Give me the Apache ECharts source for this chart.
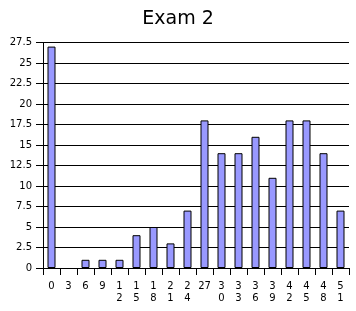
<!DOCTYPE html>
<html><head><meta charset="utf-8">
<script src="https://cdn.jsdelivr.net/npm/echarts@6/dist/echarts.min.js"></script>
<style>html,body{margin:0;padding:0;background:#fff}#c{width:356px;height:311px}</style>
</head><body><div id="c"></div>
<script>
const titleText = 'Exam 2';
const categories = ['0','3','6','9','1\n2','1\n5','1\n8','2\n1','2\n4','27','3\n0','3\n3','3\n6','3\n9','4\n2','4\n5','4\n8','5\n1'];
const values = [27,0,1,1,1,4,5,3,7,18,14,14,16,11,18,18,14,7];
const yTicks = [0,2.5,5,7.5,10,12.5,15,17.5,20,22.5,25,27.5];

const chart = echarts.init(document.getElementById('c'), null, {renderer:'canvas'});
chart.setOption({
  animation:false,
  title:{text:titleText,left:'center',top:5,textStyle:{fontFamily:'DejaVu Sans',fontSize:19,fontWeight:'normal',color:'#000'}},
  grid:{left:43,right:7,top:42.5,bottom:43,containLabel:false},
  xAxis:{type:'category',data:categories,
    axisLine:{lineStyle:{color:'#000',width:1}},
    axisTick:{show:true,alignWithLabel:false,length:7,lineStyle:{color:'#000'}},
    axisLabel:{interval:0,color:'#000',fontFamily:'DejaVu Sans',fontSize:10,lineHeight:12.5,margin:12}},
  yAxis:{type:'value',min:0,max:27.5,interval:2.5,
    axisLine:{show:true,lineStyle:{color:'#000',width:1}},
    axisTick:{show:true,length:7,lineStyle:{color:'#000'}},
    splitLine:{show:true,lineStyle:{color:'#000',width:1}},
    axisLabel:{color:'#000',fontFamily:'DejaVu Sans',fontSize:10,margin:11,
      formatter:v=>{const t=yTicks.find(x=>Math.abs(x-v)<1e-6);return t===undefined?'':String(t);}}},
  series:[{type:'bar',data:values.map(v=>v===0?null:v),barWidth:8,
    itemStyle:{color:'#9999ff',borderColor:'#000',borderWidth:1}}]
});
</script></body></html>
